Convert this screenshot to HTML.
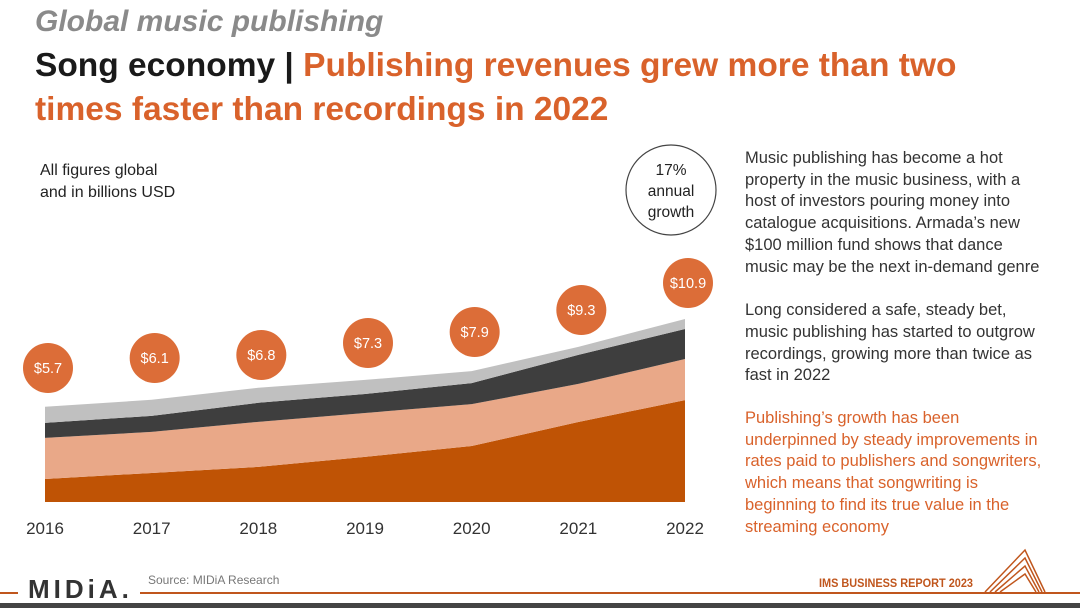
<!DOCTYPE html>
<html><head><meta charset="utf-8"><style>
body{margin:0;width:1080px;height:608px;background:#fff;font-family:"Liberation Sans",sans-serif;position:relative;overflow:hidden}
.a{position:absolute}
</style></head><body>
<div class="a" style="left:35px;top:5px;font-size:30px;font-style:italic;font-weight:bold;color:#8a8a8a">Global music publishing</div>
<div class="a" style="left:35px;top:44px;font-size:33.5px;font-weight:bold;line-height:44px;color:#d9622b;width:1000px"><span style="color:#1a1a1a">Song economy | </span>Publishing revenues grew more than two<br>times faster than recordings in 2022</div>
<div class="a" style="left:40px;top:160px;font-size:16px;line-height:22px;color:#222">All figures global<br>and in billions USD</div>
<div class="a" style="left:745px;top:148px;font-size:16.5px;line-height:21.7px;color:#333;width:330px">Music publishing has become a hot<br>property in the music business, with a<br>host of investors pouring money into<br>catalogue acquisitions. Armada’s new<br>$100 million fund shows that dance<br>music may be the next in-demand genre<div style="height:22px"></div>Long considered a safe, steady bet,<br>music publishing has started to outgrow<br>recordings, growing more than twice as<br>fast in 2022<div style="height:21px"></div><span style="color:#d9622b">Publishing’s growth has been<br>underpinned by steady improvements in<br>rates paid to publishers and songwriters,<br>which means that songwriting is<br>beginning to find its true value in the<br>streaming economy</span></div>
<svg class="a" style="left:0;top:0" width="1080" height="608">
<g id="areas"></g><g id="bubbles"></g><g id="xlabels"></g>
<circle cx="671" cy="190" r="45" fill="#fff" stroke="#444" stroke-width="1.2"/>
<text x="671" y="175" text-anchor="middle" font-size="15.5" fill="#222">17%</text>
<text x="671" y="196" text-anchor="middle" font-size="15.5" fill="#222">annual</text>
<text x="671" y="217" text-anchor="middle" font-size="15.5" fill="#222">growth</text>
<line x1="0" y1="593" x2="1080" y2="593" stroke="#c0561d" stroke-width="2"/>
<rect x="0" y="603" width="1080" height="5" fill="#444"/>
<rect x="18" y="575" width="122" height="24" fill="#fff"/>
<text x="28" y="598" font-size="26" font-weight="bold" fill="#333" letter-spacing="4">MIDiA.</text>
<text x="148" y="584" font-size="12" fill="#777">Source: MIDiA Research</text>
<text x="819" y="587" font-size="12" font-weight="bold" fill="#c0561d" textLength="154" lengthAdjust="spacingAndGlyphs">IMS BUSINESS REPORT 2023</text>
<g fill="none" stroke="#c0561d" stroke-width="1.5">
<polyline points="985,592 1025,550 1045,592"/><polyline points="990,592 1025,558 1042,592"/><polyline points="995,592 1025,566 1039,592"/><polyline points="1000,592 1025,574 1036,592"/></g>
</svg>
<script>
const years=["2016","2017","2018","2019","2020","2021","2022"];
const totals=["$5.7","$6.1","$6.8","$7.3","$7.9","$9.3","$10.9"];
const seriesA=[1.38,1.74,2.1,2.7,3.35,4.79,6.1];
const seriesB=[2.46,2.46,2.7,2.63,2.51,2.28,2.46];
const seriesC=[0.9,0.96,1.14,1.14,1.26,1.74,1.8];
const seriesD=[0.96,0.96,0.9,0.84,0.72,0.48,0.6];
const bubbleY=[368,358,355,343,332,310,283];
const NS="http://www.w3.org/2000/svg";
const x=i=>45+i*(640/6);
const y=v=>502-v*16.7;
const colors=["#bf5305","#e9a888","#3e3e3e","#c0c0c0"];
const names=["area-series-a","area-series-b","area-series-c","area-series-d"];
const series=[seriesA,seriesB,seriesC,seriesD];
const ag=document.getElementById("areas");
let base=years.map(()=>0);
series.forEach((s,k)=>{
 const top=base.map((b,i)=>b+s[i]);
 let d=top.map((v,i)=>(i?"L":"M")+x(i)+","+y(v)).join(" ");
 for(let i=years.length-1;i>=0;i--)d+=" L"+x(i)+","+y(base[i]);
 const p=document.createElementNS(NS,"path");
 p.setAttribute("d",d+"Z");p.setAttribute("fill",colors[k]);
 
 
 ag.appendChild(p);base=top;
});
const bg=document.getElementById("bubbles"),xg=document.getElementById("xlabels");
years.forEach((yr,i)=>{
 const c=document.createElementNS(NS,"circle");
 c.setAttribute("cx",x(i)+3);c.setAttribute("cy",bubbleY[i]);c.setAttribute("r",25);c.setAttribute("fill","#dc6d38");
 
 
 bg.appendChild(c);
 const t=document.createElementNS(NS,"text");
 t.setAttribute("x",x(i)+3);t.setAttribute("y",bubbleY[i]+5);t.setAttribute("text-anchor","middle");t.setAttribute("font-size","14.5");t.setAttribute("fill","#fff");
 t.textContent=totals[i];
 
 
 bg.appendChild(t);
 const l=document.createElementNS(NS,"text");
 l.setAttribute("x",x(i));l.setAttribute("y",534);l.setAttribute("text-anchor","middle");l.setAttribute("font-size","17");l.setAttribute("fill","#333");
 l.textContent=yr;
 
 
 xg.appendChild(l);
});
</script>
</body></html>
